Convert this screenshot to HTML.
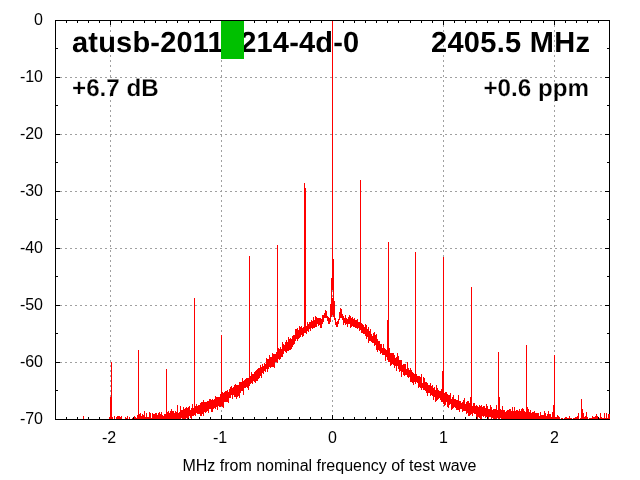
<!DOCTYPE html>
<html><head><meta charset="utf-8"><title>spectrum</title>
<style>
html,body{margin:0;padding:0;background:#fff;}
svg{display:block;font-family:"Liberation Sans",sans-serif;}
.g line{stroke:#a0a0a0;stroke-width:1;stroke-dasharray:2 3;}
.t text{font-size:16px;fill:#000;}
.b{font-weight:bold;text-rendering:geometricPrecision;}
.h1{font-size:29px;}
.h2{font-size:24.2px;stroke:#fff;stroke-width:0.22px;}
</style></head><body>
<svg width="640" height="480" viewBox="0 0 640 480">
<rect width="640" height="480" fill="#fff"/>
<g class="g" shape-rendering="crispEdges"><line x1="55" y1="362.5" x2="609" y2="362.5"/><line x1="55" y1="305.5" x2="609" y2="305.5"/><line x1="55" y1="248.5" x2="609" y2="248.5"/><line x1="55" y1="191.5" x2="609" y2="191.5"/><line x1="55" y1="134.5" x2="609" y2="134.5"/><line x1="55" y1="77.5" x2="609" y2="77.5"/><line x1="110.5" y1="20" x2="110.5" y2="419"/><line x1="221.5" y1="20" x2="221.5" y2="419"/><line x1="332.5" y1="20" x2="332.5" y2="419"/><line x1="443.5" y1="20" x2="443.5" y2="419"/><line x1="554.5" y1="20" x2="554.5" y2="419"/></g>
<rect x="55.5" y="20.5" width="554" height="399" fill="none" stroke="#000" stroke-width="1" shape-rendering="crispEdges"/>
<path d="M56 20h4v1h-4zM605 20h4v1h-4zM56 48h2v1h-2zM607 48h2v1h-2zM56 77h4v1h-4zM605 77h4v1h-4zM56 105h2v1h-2zM607 105h2v1h-2zM56 134h4v1h-4zM605 134h4v1h-4zM56 162h2v1h-2zM607 162h2v1h-2zM56 191h4v1h-4zM605 191h4v1h-4zM56 219h2v1h-2zM607 219h2v1h-2zM56 248h4v1h-4zM605 248h4v1h-4zM56 276h2v1h-2zM607 276h2v1h-2zM56 305h4v1h-4zM605 305h4v1h-4zM56 333h2v1h-2zM607 333h2v1h-2zM56 362h4v1h-4zM605 362h4v1h-4zM56 390h2v1h-2zM607 390h2v1h-2zM56 419h4v1h-4zM605 419h4v1h-4zM55 417v2h1v-2zM55 21v2h1v-2zM66 417v2h1v-2zM66 21v2h1v-2zM77 417v2h1v-2zM77 21v2h1v-2zM88 417v2h1v-2zM88 21v2h1v-2zM99 417v2h1v-2zM99 21v2h1v-2zM110 415v4h1v-4zM110 21v4h1v-4zM121 417v2h1v-2zM121 21v2h1v-2zM133 417v2h1v-2zM133 21v2h1v-2zM144 417v2h1v-2zM144 21v2h1v-2zM155 417v2h1v-2zM155 21v2h1v-2zM166 417v2h1v-2zM166 21v2h1v-2zM177 417v2h1v-2zM177 21v2h1v-2zM188 417v2h1v-2zM188 21v2h1v-2zM199 417v2h1v-2zM199 21v2h1v-2zM210 417v2h1v-2zM210 21v2h1v-2zM221 415v4h1v-4zM221 21v4h1v-4zM232 417v2h1v-2zM232 21v2h1v-2zM243 417v2h1v-2zM243 21v2h1v-2zM254 417v2h1v-2zM254 21v2h1v-2zM266 417v2h1v-2zM266 21v2h1v-2zM277 417v2h1v-2zM277 21v2h1v-2zM288 417v2h1v-2zM288 21v2h1v-2zM299 417v2h1v-2zM299 21v2h1v-2zM310 417v2h1v-2zM310 21v2h1v-2zM321 417v2h1v-2zM321 21v2h1v-2zM332 415v4h1v-4zM332 21v4h1v-4zM343 417v2h1v-2zM343 21v2h1v-2zM354 417v2h1v-2zM354 21v2h1v-2zM365 417v2h1v-2zM365 21v2h1v-2zM376 417v2h1v-2zM376 21v2h1v-2zM387 417v2h1v-2zM387 21v2h1v-2zM398 417v2h1v-2zM398 21v2h1v-2zM410 417v2h1v-2zM410 21v2h1v-2zM421 417v2h1v-2zM421 21v2h1v-2zM432 417v2h1v-2zM432 21v2h1v-2zM443 415v4h1v-4zM443 21v4h1v-4zM454 417v2h1v-2zM454 21v2h1v-2zM465 417v2h1v-2zM465 21v2h1v-2zM476 417v2h1v-2zM476 21v2h1v-2zM487 417v2h1v-2zM487 21v2h1v-2zM498 417v2h1v-2zM498 21v2h1v-2zM509 417v2h1v-2zM509 21v2h1v-2zM520 417v2h1v-2zM520 21v2h1v-2zM531 417v2h1v-2zM531 21v2h1v-2zM543 417v2h1v-2zM543 21v2h1v-2zM554 415v4h1v-4zM554 21v4h1v-4zM565 417v2h1v-2zM565 21v2h1v-2zM576 417v2h1v-2zM576 21v2h1v-2zM587 417v2h1v-2zM587 21v2h1v-2zM598 417v2h1v-2zM598 21v2h1v-2zM609 417v2h1v-2zM609 21v2h1v-2z" fill="#000" shape-rendering="crispEdges"/>
<g class="t"><text x="43" y="25" text-anchor="end">0</text><text x="43" y="82" text-anchor="end">-10</text><text x="43" y="139" text-anchor="end">-20</text><text x="43" y="196" text-anchor="end">-30</text><text x="43" y="253" text-anchor="end">-40</text><text x="43" y="310" text-anchor="end">-50</text><text x="43" y="367" text-anchor="end">-60</text><text x="43" y="424" text-anchor="end">-70</text><text x="109" y="443" text-anchor="middle">-2</text><text x="220" y="443" text-anchor="middle">-1</text><text x="332.5" y="443" text-anchor="middle">0</text><text x="443.5" y="443" text-anchor="middle">1</text><text x="554.5" y="443" text-anchor="middle">2</text>
<text x="329.5" y="471" text-anchor="middle" textLength="294" lengthAdjust="spacing">MHz from nominal frequency of test wave</text>
</g>
<g class="b">
<text x="72" y="52" class="h1" textLength="287.2" lengthAdjust="spacing">atusb-20110214-4d-0</text>
<text x="590" y="52" class="h1" text-anchor="end" textLength="159" lengthAdjust="spacing">2405.5 MHz</text>
<text x="72" y="96.3" class="h2">+6.7 dB</text>
<text x="589" y="96.3" class="h2" text-anchor="end">+0.6 ppm</text>
</g>
<rect x="221" y="21" width="23" height="38" fill="#00c000" shape-rendering="crispEdges"/>
<path d="M83 416v3h1v-3zM109 417v2h1v-2zM110 397v22h1v-22zM111 362v57h1v-57zM112 417v2h1v-2zM114 416v3h1v-3zM116 417v2h1v-2zM117 416v3h1v-3zM118 416v3h1v-3zM119 416v3h1v-3zM120 417v2h1v-2zM121 416v3h1v-3zM125 417v2h1v-2zM126 418v1h1v-1zM127 416v3h1v-3zM129 417v2h1v-2zM132 418v1h1v-1zM134 416v3h1v-3zM135 417v2h1v-2zM136 418v1h1v-1zM137 415v4h1v-4zM138 350v69h1v-69zM139 414v5h1v-5zM140 413v6h1v-6zM141 416v3h1v-3zM142 414v5h1v-5zM143 415v4h1v-4zM144 411v8h1v-8zM145 417v2h1v-2zM146 413v6h1v-6zM147 417v2h1v-2zM148 417v2h1v-2zM149 412v7h1v-7zM150 413v6h1v-6zM151 418v1h1v-1zM152 413v6h1v-6zM153 414v5h1v-5zM154 414v5h1v-5zM155 413v6h1v-6zM156 413v6h1v-6zM157 415v4h1v-4zM158 413v6h1v-6zM159 412v7h1v-7zM160 414v5h1v-5zM161 412v7h1v-7zM162 415v4h1v-4zM163 416v3h1v-3zM164 414v5h1v-5zM165 414v5h1v-5zM166 369v50h1v-50zM167 412v7h1v-7zM168 411v8h1v-8zM169 413v6h1v-6zM170 411v8h1v-8zM171 409v10h1v-10zM172 411v8h1v-8zM173 411v8h1v-8zM174 413v6h1v-6zM175 411v8h1v-8zM176 412v7h1v-7zM177 405v14h1v-14zM178 413v6h1v-6zM179 412v7h1v-7zM180 406v13h1v-13zM181 410v8h1v-8zM182 410v9h1v-9zM183 407v12h1v-12zM184 409v10h1v-10zM185 408v11h1v-11zM186 407v11h1v-11zM187 408v11h1v-11zM188 407v11h1v-11zM189 406v10h1v-10zM190 410v8h1v-8zM191 408v11h1v-11zM192 404v12h1v-12zM193 408v8h1v-8zM194 298v117h1v-117zM195 406v10h1v-10zM196 404v9h1v-9zM197 406v8h1v-8zM198 405v9h1v-9zM199 405v9h1v-9zM200 403v13h1v-13zM201 402v14h1v-14zM202 402v12h1v-12zM203 400v16h1v-16zM204 402v10h1v-10zM205 402v11h1v-11zM206 402v10h1v-10zM207 401v10h1v-10zM208 401v12h1v-12zM209 399v10h1v-10zM210 399v10h1v-10zM211 400v12h1v-12zM212 399v13h1v-13zM213 400v9h1v-9zM214 399v9h1v-9zM215 396v13h1v-13zM216 397v10h1v-10zM217 397v13h1v-13zM218 397v9h1v-9zM219 397v10h1v-10zM220 394v13h1v-13zM221 335v71h1v-71zM222 392v15h1v-15zM223 393v15h1v-15zM224 392v10h1v-10zM225 391v11h1v-11zM226 391v11h1v-11zM227 390v12h1v-12zM228 392v11h1v-11zM229 389v9h1v-9zM230 387v11h1v-11zM231 386v9h1v-9zM232 388v11h1v-11zM233 387v8h1v-8zM234 385v12h1v-12zM235 384v13h1v-13zM236 385v14h1v-14zM237 385v12h1v-12zM238 385v11h1v-11zM239 382v16h1v-16zM240 382v11h1v-11zM241 382v9h1v-9zM242 378v13h1v-13zM243 381v14h1v-14zM244 380v8h1v-8zM245 379v9h1v-9zM246 378v9h1v-9zM247 378v10h1v-10zM248 378v12h1v-12zM249 256v130h1v-130zM250 376v8h1v-8zM251 372v11h1v-11zM252 374v10h1v-10zM253 374v7h1v-7zM254 372v10h1v-10zM255 371v12h1v-12zM256 370v11h1v-11zM257 369v12h1v-12zM258 368v11h1v-11zM259 368v10h1v-10zM260 365v11h1v-11zM261 367v11h1v-11zM262 364v9h1v-9zM263 366v8h1v-8zM264 363v8h1v-8zM265 364v8h1v-8zM266 358v11h1v-11zM267 359v13h1v-13zM268 359v10h1v-10zM269 355v12h1v-12zM270 357v11h1v-11zM271 357v10h1v-10zM272 353v14h1v-14zM273 354v13h1v-13zM274 354v14h1v-14zM275 354v8h1v-8zM276 352v10h1v-10zM277 245v118h1v-118zM278 348v11h1v-11zM279 349v11h1v-11zM280 347v12h1v-12zM281 349v8h1v-8zM282 342v15h1v-15zM283 344v10h1v-10zM284 345v6h1v-6zM285 342v10h1v-10zM286 340v13h1v-13zM287 342v9h1v-9zM288 337v14h1v-14zM289 339v11h1v-11zM290 338v12h1v-12zM291 339v10h1v-10zM292 336v11h1v-11zM293 335v10h1v-10zM294 335v9h1v-9zM295 329v12h1v-12zM296 329v10h1v-10zM297 328v13h1v-13zM298 330v9h1v-9zM299 326v12h1v-12zM300 327v10h1v-10zM301 326v9h1v-9zM302 328v9h1v-9zM303 327v9h1v-9zM304 183v150h1v-150zM305 188v145h1v-145zM306 326v8h1v-8zM307 322v9h1v-9zM308 324v8h1v-8zM309 322v7h1v-7zM310 322v9h1v-9zM311 320v8h1v-8zM312 321v8h1v-8zM313 317v11h1v-11zM314 320v8h1v-8zM315 316v11h1v-11zM316 317v10h1v-10zM317 318v6h1v-6zM318 318v8h1v-8zM319 318v7h1v-7zM320 318v10h1v-10zM321 319v9h1v-9zM322 315v9h1v-9zM323 315v7h1v-7zM324 313v5h1v-5zM325 310v8h1v-8zM326 311v7h1v-7zM327 316v5h1v-5zM328 317v7h1v-7zM329 318v6h1v-6zM330 304v18h1v-18zM331 278v39h1v-39zM332 21v269h1v-269zM332 298v17h1v-17zM333 259v58h1v-58zM334 301v19h1v-19zM335 318v7h1v-7zM336 322v5h1v-5zM337 321v6h1v-6zM338 319v5h1v-5zM339 312v8h1v-8zM340 308v10h1v-10zM341 309v9h1v-9zM342 314v6h1v-6zM343 316v9h1v-9zM344 318v5h1v-5zM345 315v10h1v-10zM346 318v6h1v-6zM347 319v8h1v-8zM348 317v7h1v-7zM349 315v9h1v-9zM350 316v12h1v-12zM351 318v9h1v-9zM352 317v9h1v-9zM353 319v8h1v-8zM354 318v9h1v-9zM355 320v8h1v-8zM356 320v8h1v-8zM357 319v10h1v-10zM358 322v6h1v-6zM359 322v9h1v-9zM360 180v150h1v-150zM361 323v10h1v-10zM362 324v9h1v-9zM363 325v9h1v-9zM364 327v7h1v-7zM365 324v12h1v-12zM366 325v14h1v-14zM367 329v8h1v-8zM368 327v16h1v-16zM369 331v10h1v-10zM370 329v12h1v-12zM371 334v8h1v-8zM372 336v7h1v-7zM373 333v10h1v-10zM374 332v14h1v-14zM375 335v10h1v-10zM376 334v16h1v-16zM377 339v13h1v-13zM378 341v9h1v-9zM379 341v10h1v-10zM380 344v10h1v-10zM381 344v9h1v-9zM382 348v7h1v-7zM383 344v11h1v-11zM384 348v7h1v-7zM385 349v12h1v-12zM386 350v7h1v-7zM387 320v40h1v-40zM388 242v120h1v-120zM389 348v14h1v-14zM390 353v13h1v-13zM391 353v12h1v-12zM392 353v11h1v-11zM393 353v12h1v-12zM394 355v13h1v-13zM395 358v8h1v-8zM396 357v14h1v-14zM397 353v13h1v-13zM398 356v13h1v-13zM399 360v12h1v-12zM400 360v11h1v-11zM401 360v17h1v-17zM402 365v7h1v-7zM403 364v11h1v-11zM404 364v12h1v-12zM405 364v11h1v-11zM406 369v6h1v-6zM407 362v15h1v-15zM408 368v10h1v-10zM409 370v7h1v-7zM410 368v14h1v-14zM411 370v12h1v-12zM412 372v11h1v-11zM413 373v12h1v-12zM414 374v8h1v-8zM415 252v132h1v-132zM416 374v8h1v-8zM417 376v7h1v-7zM418 376v12h1v-12zM419 376v11h1v-11zM420 377v11h1v-11zM421 374v16h1v-16zM422 383v5h1v-5zM423 377v13h1v-13zM424 378v12h1v-12zM425 382v9h1v-9zM426 382v11h1v-11zM427 383v13h1v-13zM428 385v8h1v-8zM429 385v8h1v-8zM430 383v13h1v-13zM431 386v9h1v-9zM432 385v11h1v-11zM433 388v12h1v-12zM434 387v10h1v-10zM435 390v12h1v-12zM436 385v16h1v-16zM437 388v12h1v-12zM438 390v9h1v-9zM439 391v7h1v-7zM440 391v9h1v-9zM441 389v13h1v-13zM442 371v31h1v-31zM443 257v147h1v-147zM444 393v13h1v-13zM445 392v13h1v-13zM446 392v10h1v-10zM447 394v13h1v-13zM448 395v13h1v-13zM449 395v10h1v-10zM450 393v11h1v-11zM451 399v11h1v-11zM452 397v12h1v-12zM453 395v13h1v-13zM454 399v8h1v-8zM455 399v9h1v-9zM456 400v10h1v-10zM457 400v10h1v-10zM458 395v15h1v-15zM459 401v11h1v-11zM460 401v8h1v-8zM461 403v6h1v-6zM462 402v10h1v-10zM463 400v11h1v-11zM464 398v13h1v-13zM465 404v7h1v-7zM466 402v12h1v-12zM467 401v12h1v-12zM468 401v15h1v-15zM469 403v13h1v-13zM470 397v18h1v-18zM471 287v127h1v-127zM472 406v10h1v-10zM473 403v10h1v-10zM474 403v11h1v-11zM475 406v8h1v-8zM476 405v12h1v-12zM477 406v13h1v-13zM478 407v10h1v-10zM479 405v13h1v-13zM480 406v13h1v-13zM481 405v14h1v-14zM482 407v9h1v-9zM483 406v11h1v-11zM484 406v10h1v-10zM485 408v10h1v-10zM486 404v13h1v-13zM487 406v11h1v-11zM488 409v10h1v-10zM489 409v8h1v-8zM490 405v12h1v-12zM491 407v12h1v-12zM492 410v8h1v-8zM493 409v10h1v-10zM494 409v10h1v-10zM495 409v10h1v-10zM496 405v14h1v-14zM497 410v8h1v-8zM498 352v67h1v-67zM499 397v22h1v-22zM500 409v9h1v-9zM501 410v9h1v-9zM502 406v13h1v-13zM503 410v9h1v-9zM504 410v9h1v-9zM505 412v7h1v-7zM506 411v8h1v-8zM507 410v9h1v-9zM508 410v9h1v-9zM509 409v10h1v-10zM510 409v10h1v-10zM511 411v8h1v-8zM512 407v12h1v-12zM513 411v8h1v-8zM514 407v12h1v-12zM515 411v8h1v-8zM516 410v9h1v-9zM517 410v9h1v-9zM518 411v8h1v-8zM519 409v10h1v-10zM520 411v8h1v-8zM521 409v10h1v-10zM522 408v11h1v-11zM523 409v10h1v-10zM524 411v8h1v-8zM525 412v7h1v-7zM526 345v74h1v-74zM527 407v12h1v-12zM528 409v10h1v-10zM529 412v7h1v-7zM530 410v9h1v-9zM531 413v6h1v-6zM532 412v7h1v-7zM533 412v7h1v-7zM534 411v8h1v-8zM535 413v6h1v-6zM536 413v6h1v-6zM537 413v6h1v-6zM538 413v6h1v-6zM539 416v3h1v-3zM540 412v7h1v-7zM541 415v4h1v-4zM542 415v4h1v-4zM543 415v4h1v-4zM544 411v8h1v-8zM545 413v6h1v-6zM546 416v3h1v-3zM547 414v5h1v-5zM548 411v8h1v-8zM549 414v5h1v-5zM550 414v5h1v-5zM551 417v2h1v-2zM552 412v7h1v-7zM553 405v14h1v-14zM554 355v64h1v-64zM555 417v2h1v-2zM556 417v2h1v-2zM557 415v4h1v-4zM558 416v3h1v-3zM559 417v2h1v-2zM561 418v1h1v-1zM562 418v1h1v-1zM564 418v1h1v-1zM565 417v2h1v-2zM566 417v2h1v-2zM567 418v1h1v-1zM568 418v1h1v-1zM569 416v3h1v-3zM570 418v1h1v-1zM571 418v1h1v-1zM573 418v1h1v-1zM574 418v1h1v-1zM575 417v2h1v-2zM576 417v2h1v-2zM577 416v3h1v-3zM578 413v6h1v-6zM580 418v1h1v-1zM581 399v20h1v-20zM582 409v10h1v-10zM583 413v6h1v-6zM584 417v2h1v-2zM585 416v3h1v-3zM586 412v7h1v-7zM587 417v2h1v-2zM589 418v1h1v-1zM590 418v1h1v-1zM591 418v1h1v-1zM592 416v3h1v-3zM593 417v2h1v-2zM594 417v2h1v-2zM595 416v3h1v-3zM596 414v5h1v-5zM597 416v3h1v-3zM599 418v1h1v-1zM600 413v6h1v-6zM601 417v2h1v-2zM602 418v1h1v-1zM603 418v1h1v-1zM604 413v6h1v-6zM605 418v1h1v-1zM606 413v6h1v-6zM607 418v1h1v-1zM608 414v5h1v-5zM609 414v5h1v-5z" fill="#f00" shape-rendering="crispEdges"/>
</svg>
</body></html>
